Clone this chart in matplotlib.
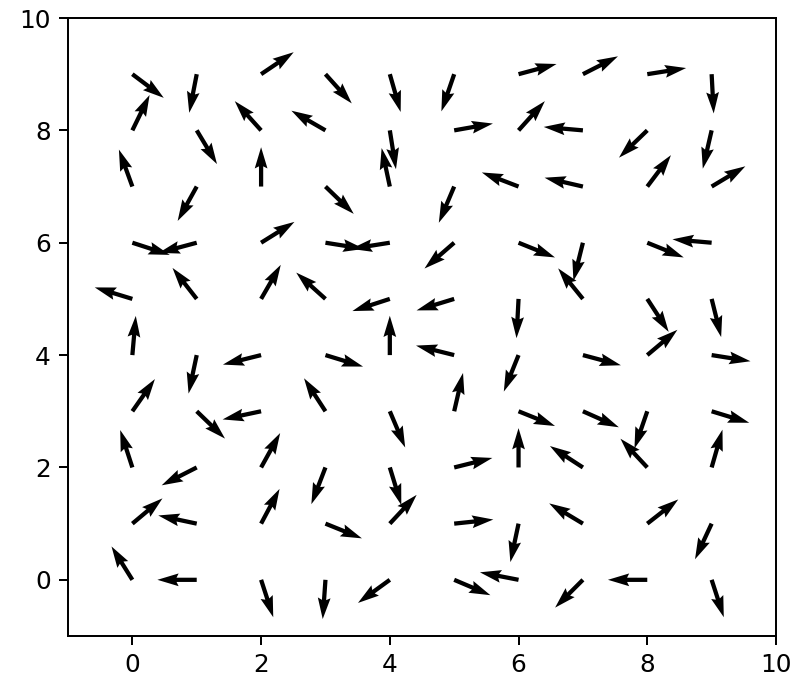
import numpy as np
import matplotlib
matplotlib.use("Agg")
import matplotlib.pyplot as plt

# arrow directions in degrees (screen angle), one row per y value, x = 0..9
ang_y0 = [122, 180, -72, -94, -144, -23, 169, -135, 180, -72]
ang_y1 = [40, 168, 62, -22, 47, 6, -102, 149, 38, -115]
ang_y2 = [108, -153, 61, -111, -73, 14, 90, 147, 133, 74]
ang_y3 = [55, -44, -168, 123, -67, 77, -22, -24, -109, -17]
ang_y4 = [85, -102, -166, -17, 90, 166, -112, -15, 40, -9]
ang_y5 = [163, 128, 60, 138, -162, -163, -93, 129, -57, -76]
ang_y6 = [-18, -165, 32, -9, -171, -139, -22, -104, -22, 175]
ang_y7 = [110, -119, 90, -44, 102, -113, 159, 167, 53, 31]
ang_y8 = [64, -59, 132, 150, -81, 10, 48, 175, -136, -103]
ang_y9 = [-37, -101, 34, -48, -74, -109, 15, 27, 9, -87]

xs = np.arange(10)
ys = np.arange(10)

angles = np.array([ang_y0, ang_y1, ang_y2, ang_y3, ang_y4,
                   ang_y5, ang_y6, ang_y7, ang_y8, ang_y9], dtype=float)
X, Y = np.meshgrid(xs, ys)
U = np.cos(np.radians(angles))
V = np.sin(np.radians(angles))

fig = plt.figure(figsize=(791 / 178, 683 / 178), dpi=178)
ax = fig.add_axes([68 / 791, 47 / 683, 708 / 791, 618 / 683])
ax.quiver(X, Y, U, V)
ax.set_xlim(-1, 10)
ax.set_ylim(-1, 10)

fig.savefig("out.png", dpi=178)
